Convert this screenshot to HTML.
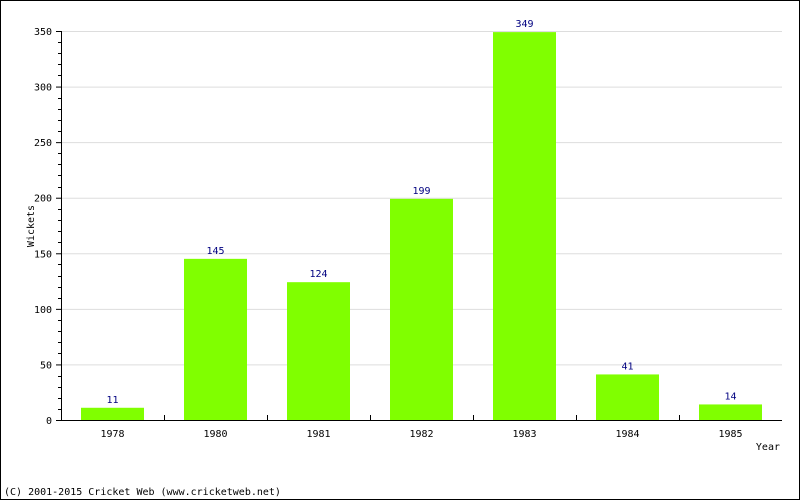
<!DOCTYPE html>
<html><head><meta charset="utf-8"><style>
body{margin:0;background:#fff}
svg{display:block}
text{font-family:"DejaVu Sans Mono","Liberation Mono",monospace;font-size:10px}
</style></head><body>
<svg id="c" width="800" height="500">
<rect x="0.5" y="0.5" width="799" height="499" fill="#fff" stroke="#000"/>
<g id="grid"></g><g id="bars"></g><g id="axes"></g>
<text x="34" y="226" transform="rotate(-90 34 226)" text-anchor="middle">Wickets</text>
<text x="780" y="450" text-anchor="end">Year</text>
<text x="4" y="495">(C) 2001-2015 Cricket Web (www.cricketweb.net)</text>
</svg>
<script>
const categories=["1978","1980","1981","1982","1983","1984","1985"];
const values=[11,145,124,199,349,41,14];
const yTicks=[0,50,100,150,200,250,300,350];
const X0=61,X1=782,Y0=420,Y1=31,YMAX=350;
const ns="http://www.w3.org/2000/svg";
const bw=(X1-X0)/categories.length;
const y=v=>Y0-(v/YMAX)*(Y0-Y1);
const x=i=>X0+i*bw;
function mk(t,a,p){const e=document.createElementNS(ns,t);for(const k in a)e.setAttribute(k,a[k]);p.appendChild(e);return e;}
const g=document.getElementById('grid'),b=document.getElementById('bars'),ax=document.getElementById('axes');
yTicks.forEach(t=>{
 if(t>0){const l=mk('line',{x1:X0,x2:X1,y1:y(t)+.5,y2:y(t)+.5,stroke:'#ddd'},g);
 
 }
 const tk=mk('line',{x1:X0-5,x2:X0,y1:y(t)+.5,y2:y(t)+.5,stroke:'#000'},ax);
 
 
 const tl=mk('text',{x:X0-9,y:y(t)+4,'text-anchor':'end'},ax);tl.textContent=t;
 
 
});
for(let v=10;v<YMAX;v+=10){if(v%50==0)continue;
 const m=mk('line',{x1:X0-3,x2:X0,y1:Math.round(y(v))+.5,y2:Math.round(y(v))+.5,stroke:'#000'},ax);
 
 }
categories.forEach((c,i)=>{
 const r=mk('rect',{x:x(i)+20,y:y(values[i]),width:63,height:Y0-y(values[i]),fill:'#80ff00'},b);
 
 
 const vl=mk('text',{x:x(i)+bw/2,y:y(values[i])-5,'text-anchor':'middle',fill:'#000080'},b);vl.textContent=values[i];
 
 
 const xl=mk('text',{x:x(i)+bw/2,y:437,'text-anchor':'middle'},ax);xl.textContent=c;
 
 
 if(i>0){const t=mk('line',{x1:Math.round(x(i))+.5,x2:Math.round(x(i))+.5,y1:Y0-5,y2:Y0,stroke:'#000'},ax);
 
 }
});
const ya=mk('line',{x1:X0+.5,x2:X0+.5,y1:Y1,y2:Y0+.5,stroke:'#000'},ax);


const xa=mk('line',{x1:X0,x2:X1,y1:Y0+.5,y2:Y0+.5,stroke:'#000'},ax);


</script>
</body></html>
